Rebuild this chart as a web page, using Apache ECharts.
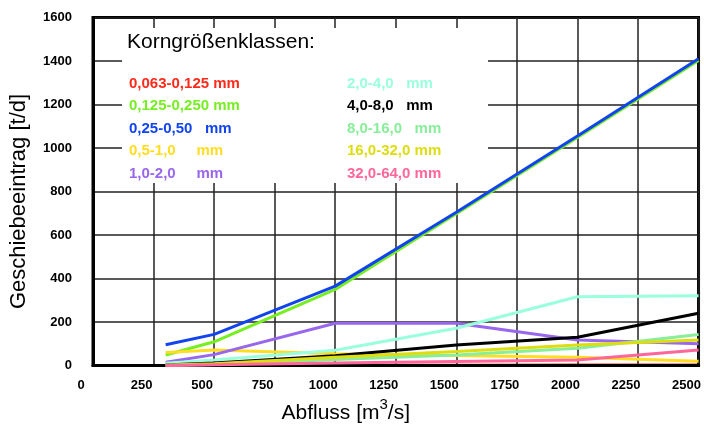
<!DOCTYPE html>
<html>
<head>
<meta charset="utf-8">
<script src="https://cdn.jsdelivr.net/npm/echarts@6/dist/echarts.min.js"></script>
<style>
  html, body { margin: 0; padding: 0; background: #fff; }
  #chart { width: 704px; height: 431px; }
</style>
</head>
<body>
<div id="chart"></div>
<script>
// Abfluss (x) und Geschiebeeintrag je Kornklasse (y)
var abfluss = [300, 500, 1000, 1500, 2000, 2500];

var klassen = [
    '0,063-0,125 mm', '0,125-0,250 mm', '0,25-0,50   mm', '0,5-1,0     mm', '1,0-2,0     mm',
    '2,0-4,0   mm', '4,0-8,0   mm', '8,0-16,0   mm', '16,0-32,0 mm', '32,0-64,0 mm'
];
var farben = [
    '#ff2a1a', '#77ee22', '#1144ee', '#ffdd22', '#9966ee',
    '#99ffdd', '#000000', '#88ee99', '#dddd11', '#ff6699'
];

var k0063 = [0, 0, 1, 1, 2, 2];
var k0125 = [48, 109, 350, 698, 1048, 1402];
var k025 = [95, 143, 365, 705, 1055, 1410];
var k05 = [60, 71, 54, 46, 38, 20];
var k1 = [15, 50, 194, 194, 117, 100];
var k2 = [10, 25, 70, 171, 316, 321];
var k4 = [2, 12, 45, 94, 130, 240];
var k8 = [1, 5, 28, 48, 79, 143];
var k16 = [1, 8, 38, 64, 94, 117];
var k32 = [0, 3, 12, 18, 25, 71];

var werte = [k0063, k0125, k025, k05, k1, k2, k4, k8, k16, k32];

var myChart = echarts.init(document.getElementById('chart'));

var series = [];
for (var i = 0; i < klassen.length; i++) {
    var punkte = [];
    for (var j = 0; j < abfluss.length; j++) {
        punkte.push([abfluss[j], werte[i][j]]);
    }
    series.push({
        name: klassen[i],
        type: 'line',
        data: punkte,
        symbol: 'none',
        color: farben[i],
        z: i == 0 ? -1 : 2,   // rote Linie liegt auf der Achse
        lineStyle: { width: 3, color: farben[i] }
    });
}

function legendData(von, bis) {
    var d = [];
    for (var i = von; i < bis; i++) {
        d.push({ name: klassen[i], textStyle: { color: farben[i] } });
    }
    return d;
}

var legendBase = {
    orient: 'vertical',
    top: 76,
    padding: 0,
    icon: 'none',
    itemWidth: 0,
    itemHeight: 15,
    itemGap: 7.5,
    selectedMode: false,
    textStyle: { fontFamily: 'Liberation Sans, Arial', fontSize: 15, fontWeight: 'bold', lineHeight: 15 }
};

var option = {
    animation: false,
    backgroundColor: '#fff',
    textStyle: { fontFamily: 'Liberation Sans, Arial' },
    title: {
        text: 'Korngrößenklassen:',
        left: 127,
        top: 32,
        padding: 0,
        textStyle: { fontSize: 21, fontWeight: 'normal', color: '#000', fontFamily: 'Liberation Sans, Arial' }
    },
    graphic: [{
        type: 'rect',
        z: 1,
        shape: { x: 122, y: 28, width: 366, height: 155 },
        style: { fill: '#fff' }
    }],
    legend: [
        Object.assign({}, legendBase, { left: 124, data: legendData(0, 5) }),
        Object.assign({}, legendBase, { left: 342, data: legendData(5, 10) })
    ],
    grid: {
        left: 93,
        right: 5,
        top: 17.5,
        bottom: 65.5,
        show: true,
        borderColor: '#000',
        borderWidth: 3
    },
    xAxis: {
        type: 'value',
        min: 0,
        max: 2500,
        interval: 250,
        name: 'Abfluss [m{sup|3}/s]',
        nameLocation: 'middle',
        nameGap: 32,
        nameTextStyle: {
            fontSize: 21,
            color: '#000',
            padding: [0, 100, 0, 0],
            rich: {
                sup: { fontSize: 15, padding: [0, 0, 16, 0] }
            }
        },
        axisLine: { lineStyle: { color: '#000', width: 3 } },
        axisTick: { show: false },
        axisLabel: {
            margin: 13,
            color: '#000',
            fontSize: 13,
            fontWeight: 'bold',
            padding: [0, 24, 0, 0],
            formatter: function (v) { return String(v); }
        },
        splitLine: { lineStyle: { color: '#222', width: 1.5 } }
    },
    yAxis: {
        type: 'value',
        min: 0,
        max: 1600,
        interval: 200,
        name: 'Geschiebeeintrag [t/d]',
        nameLocation: 'middle',
        nameGap: 63,
        nameTextStyle: { fontSize: 22, color: '#000', padding: [0, 20, 0, 0] },
        axisLine: { lineStyle: { color: '#000', width: 3 } },
        axisTick: { show: false },
        axisLabel: {
            margin: 21,
            color: '#000',
            fontSize: 13,
            fontWeight: 'bold',
            formatter: function (v) { return String(v); }
        },
        splitLine: { lineStyle: { color: '#222', width: 1.5 } }
    },
    series: series
};

myChart.setOption(option);
</script>
</body>
</html>
